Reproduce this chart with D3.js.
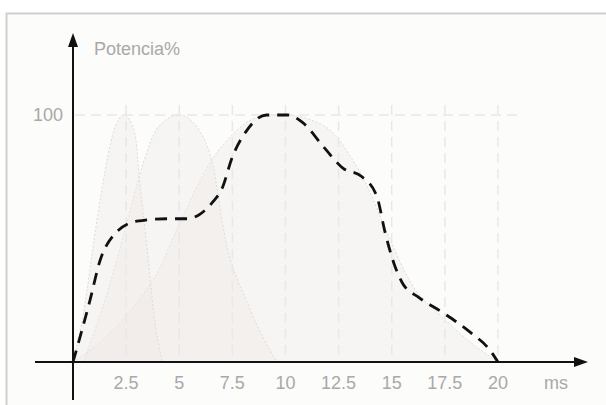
<!DOCTYPE html>
<html>
<head>
<meta charset="utf-8">
<script src="https://cdn.jsdelivr.net/npm/d3@7"></script>
<style>
  body { margin: 0; background: #fff; }
  svg { display: block; }
  text { font-family: "Liberation Sans", Arial, sans-serif; fill: #a9a9a9; }
</style>
</head>
<body>
<div id="chart"></div>
<script>
// tick labels on the x axis (ms)
const xTicks = [2.5, 5, 7.5, 10, 12.5, 15, 17.5, 20];
const yTicks = [100];

// three faint bell shaped pulses
const pulseA = [[0, 0], [0.5, 20], [1.0, 50], [1.4, 72], [1.9, 93], [2.4, 100], [2.9, 93], [3.15, 72], [3.5, 45], [3.8, 20], [4.2, 0]];
const pulseB = [[0.5, 0], [1.5, 25], [2.5, 55], [3.25, 79], [4.0, 95], [5, 100], [6, 93], [6.6, 79], [7.1, 53], [8.3, 22], [9.6, 0]];
const pulseC = [[0, 0], [1.4, 9], [3.0, 24], [4.2, 40], [4.7, 50], [5.5, 65], [6.4, 80], [7.5, 92], [8.7, 99], [10, 100], [11.2, 98], [12.2, 93], [13, 84], [13.8, 72], [14.8, 52], [15.9, 32], [17.4, 18], [18.7, 8], [20, 0]];

// resulting power curve (dashed)
const total = [[0, 0], [0.8, 25], [1.27, 41], [1.88, 51], [3.0, 57], [4.4, 58], [5.4, 58], [6.0, 60], [6.6, 65], [7.0, 70], [7.5, 83], [8.2, 94], [9.1, 100], [10.1, 100], [10.8, 97], [11.8, 87], [12.7, 78.5], [13.6, 75], [14.3, 67], [14.7, 52], [15.1, 40], [15.5, 32], [16.3, 26], [17.4, 20], [18.7, 12], [19.6, 5], [20, 0]];

const W = 606, H = 405;
const svg = d3.select("#chart").append("svg").attr("width", W).attr("height", H);

// panel with border
svg.append("rect").attr("x", 6.5).attr("y", 13.5).attr("width", 620).attr("height", 420)
  .attr("fill", "#fcfcfa").attr("stroke", "#cfcfcf").attr("stroke-width", 2);

const x = d3.scaleLinear().domain([0, 20]).range([73, 498]);
const y = d3.scaleLinear().domain([0, 100]).range([362, 115]);

// pulses
const area = d3.area().x(d => x(d[0])).y0(y(0)).y1(d => y(d[1])).curve(d3.curveMonotoneX);
const line = d3.line().x(d => x(d[0])).y(d => y(d[1])).curve(d3.curveMonotoneX);
[pulseC, pulseB, pulseA].forEach(p => {
  svg.append("path").attr("d", area(p)).attr("fill", "#ede8e5").attr("fill-opacity", 0.35);
  svg.append("path").attr("d", line(p)).attr("fill", "none")
    .attr("stroke", "#dedad8").attr("stroke-width", 1).attr("stroke-dasharray", "2,2");
});

// grid
svg.selectAll(".vgrid").data(xTicks).enter().append("line")
  .attr("x1", d => x(d)).attr("x2", d => x(d)).attr("y1", 105).attr("y2", y(0))
  .attr("stroke", "#e8e8e8").attr("stroke-width", 1.5).attr("stroke-dasharray", "10,6");
svg.selectAll(".hgrid").data(yTicks).enter().append("line")
  .attr("x1", x(0) + 2).attr("x2", 518).attr("y1", d => y(d)).attr("y2", d => y(d))
  .attr("stroke", "#e8e8e8").attr("stroke-width", 1.5).attr("stroke-dasharray", "10,6");

// axes
svg.append("line").attr("x1", 35).attr("x2", 580).attr("y1", y(0)).attr("y2", y(0))
  .attr("stroke", "#111").attr("stroke-width", 2);
svg.append("path").attr("d", `M588,${y(0)} L574,${y(0) - 5} L574,${y(0) + 5} Z`).attr("fill", "#111");
svg.append("line").attr("x1", x(0)).attr("x2", x(0)).attr("y1", 400).attr("y2", 42)
  .attr("stroke", "#111").attr("stroke-width", 2);
svg.append("path").attr("d", `M${x(0)},33 L${x(0) - 5},47 L${x(0) + 5},47 Z`).attr("fill", "#111");

// dashed total curve
svg.append("path").attr("d", line(total)).attr("fill", "none")
  .attr("stroke", "#111").attr("stroke-width", 2.8).attr("stroke-dasharray", "12,8");

// labels
svg.selectAll(".xl").data(xTicks).enter().append("text")
  .attr("x", d => x(d)).attr("y", 389).attr("text-anchor", "middle")
  .attr("font-size", 18).text(d => d);
svg.selectAll(".yl").data(yTicks).enter().append("text")
  .attr("x", 63).attr("y", d => y(d) + 6).attr("text-anchor", "end")
  .attr("font-size", 18).text(d => d);
svg.append("text").attr("x", 556).attr("y", 389).attr("text-anchor", "middle")
  .attr("font-size", 18).text("ms");
svg.append("text").attr("x", 94).attr("y", 55).attr("font-size", 18).text("Potencia%");
</script>
</body>
</html>
